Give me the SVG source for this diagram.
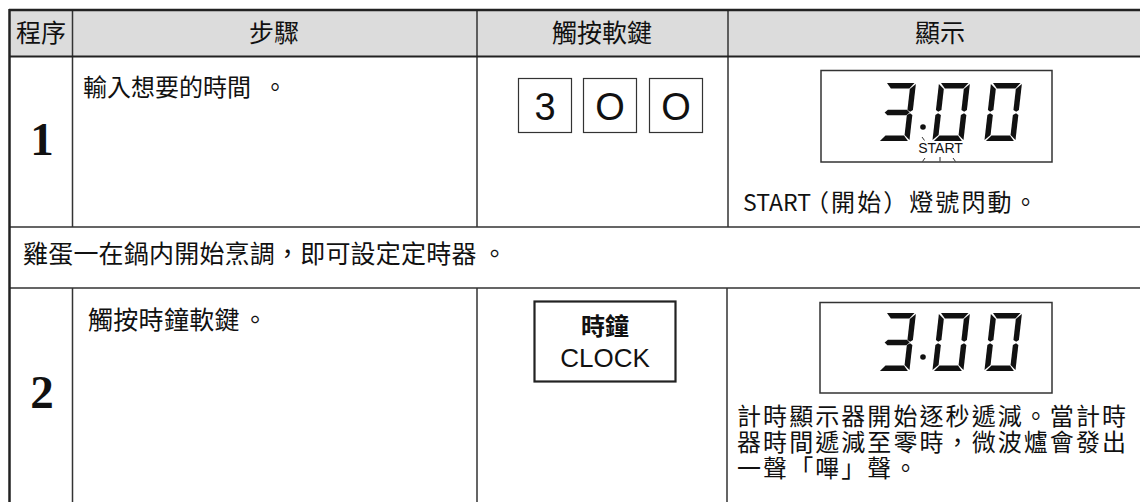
<svg xmlns="http://www.w3.org/2000/svg" width="1140" height="502" viewBox="0 0 1140 502">
<style>
.cjk{font-family:"Noto Sans CJK TC","Noto Sans CJK SC","Liberation Sans",sans-serif;fill:#111}
.hd{font-size:25px;text-anchor:middle}
.num{font-family:"Liberation Serif","Times New Roman",serif;font-weight:bold;font-size:47px;text-anchor:middle;fill:#111}
.key{fill:#fff;stroke:#333;stroke-width:1.2}
.keyt{font-family:"Liberation Sans",Arial,sans-serif;font-size:38px;text-anchor:middle;fill:#111}
.lcd{fill:#fff;stroke:#333;stroke-width:1.5}
.seg{fill:#111}
.grid{stroke:#333;stroke-width:1.5;fill:none}
.thick{stroke:#222;stroke-width:2.5;fill:none}
.tick{stroke:#333;stroke-width:1;fill:none}
.disp{font-size:24px;letter-spacing:2.07px}
</style>
<defs>
<polygon id="sA" points="2,0 29.5,0 25,5.5 6.5,5.5"/>
<polygon id="sB" points="31,1 31,27 28.5,28.8 25.5,27 25.5,6"/>
<polygon id="sC" points="28.5,30.3 31,32 31,57 25.5,52 25.5,32"/>
<polygon id="sD" points="6.5,52.5 25,52.5 29.5,58 1.5,58"/>
<polygon id="sE" points="2.5,30.3 5.5,32 5.5,52 0,57 0,32"/>
<polygon id="sF" points="0,1 5.5,6 5.5,27 2.5,28.8 0,27"/>
<polygon id="sG" points="3,29.5 6,26.8 25,26.8 28,29.5 25,32.2 6,32.2"/>
<g id="d3" class="seg"><use href="#sA"/><use href="#sB"/><use href="#sG"/><use href="#sC"/><use href="#sD"/></g>
<g id="d0" class="seg"><use href="#sA"/><use href="#sB"/><use href="#sC"/><use href="#sD"/><use href="#sE"/><use href="#sF"/></g>
</defs>

<g id="table">
<rect x="10" y="10" width="1130" height="46" fill="#dcdcdc"/>
<path class="grid" d="M9,227H1140M9,288H1140"/>
<path class="grid" d="M72.5,10V227M72.5,288V502M477,10V227M477,288V502M728,10V227M727,288V502"/>
<path class="thick" d="M9,10H1140M9.5,9V502"/>
<path stroke="#222" stroke-width="2" fill="none" d="M9,56.5H1140"/>
</g>

<g id="header">
<text class="cjk hd" x="41" y="42">程序</text>
<text class="cjk hd" x="274" y="42">步驟</text>
<text class="cjk hd" x="602" y="42">觸按軟鍵</text>
<text class="cjk hd" x="940" y="42">顯示</text>
</g>

<g id="step1">
<text class="num" x="42" y="155">1</text>
<text class="cjk" font-size="24" x="83" y="96">輸入想要的時間<tspan x="263">。</tspan></text>
</g>

<g id="keys1">
<rect class="key" x="518.5" y="78.5" width="53" height="54"/>
<rect class="key" x="583.5" y="78.5" width="53" height="54"/>
<rect class="key" x="649.5" y="78.5" width="53" height="54"/>
<text class="keyt" x="545" y="120">3</text>
<text class="keyt" x="610" y="120">O</text>
<text class="keyt" x="676" y="120">O</text>
</g>

<g id="display1">
<rect class="lcd" x="821" y="70.5" width="231" height="91.5"/>
<use href="#d3" transform="translate(885,83) skewX(-6.5)"/>
<circle cx="923" cy="127" r="2.8" fill="#111"/>
<use href="#d0" transform="translate(939,83) skewX(-6.5)"/>
<use href="#d0" transform="translate(991,83) skewX(-6.5)"/>
<text x="940.5" y="153" text-anchor="middle" font-family="Liberation Sans,Arial,sans-serif" font-size="14" fill="#111">START</text>
<path class="tick" d="M922,137L924.5,140.5M925,158L922.5,161.5M940,157V161.5M953,158L955.5,161.5"/>
<text class="cjk" x="743" y="211"><tspan font-size="23">START</tspan><tspan class="disp" x="805">（開始）燈號閃動。</tspan></text>
</g>

<g id="note">
<text class="cjk" font-size="25" letter-spacing="0.2" x="23" y="263">雞蛋一在鍋内開始烹調，即可設定定時器<tspan x="482">。</tspan></text>
</g>

<g id="step2">
<text class="num" x="42" y="408">2</text>
<text class="cjk" font-size="25" letter-spacing="0.3" x="88" y="328.5">觸按時鐘軟鍵<tspan x="242.5">。</tspan></text>
</g>

<g id="key-clock">
<rect x="534.5" y="301.5" width="141" height="80" fill="#fff" stroke="#222" stroke-width="2.2"/>
<text x="605" y="335" text-anchor="middle" class="cjk" font-size="24" font-weight="bold">時鐘</text>
<text x="605" y="367" text-anchor="middle" font-family="Liberation Sans,Arial,sans-serif" font-size="26" fill="#111">CLOCK</text>
</g>

<g id="display2">
<rect class="lcd" x="820" y="302.5" width="232" height="90.5"/>
<use href="#d3" transform="translate(885,313) skewX(-6.5)"/>
<circle cx="923" cy="357" r="2.8" fill="#111"/>
<use href="#d0" transform="translate(939,313) skewX(-6.5)"/>
<use href="#d0" transform="translate(991,313) skewX(-6.5)"/>
<text class="cjk disp" x="737" y="425">計時顯示器開始逐秒遞減。當計時<tspan x="737" dy="26">器時間遞減至零時，微波爐會發出</tspan><tspan x="737" dy="26">一聲「嗶」聲。</tspan></text>
</g>
</svg>
